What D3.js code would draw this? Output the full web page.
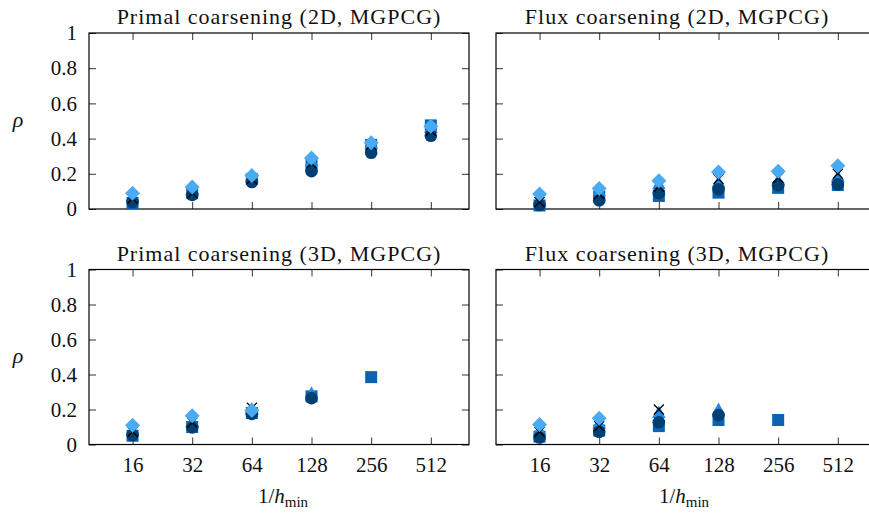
<!DOCTYPE html>
<html><head><meta charset="utf-8">
<script src="https://cdn.jsdelivr.net/npm/d3@7"></script>
<style>body{margin:0;background:#fff}svg{display:block}</style>
</head><body>
<script>
// ---------- data ----------
const categories = ["16", "32", "64", "128", "256", "512"];
const yTickValues = [0, 0.2, 0.4, 0.6, 0.8, 1];
const yTickLabels = ["0", "0.2", "0.4", "0.6", "0.8", "1"];
const panelTitles = ["Primal coarsening (2D, MGPCG)", "Flux coarsening (2D, MGPCG)",
                     "Primal coarsening (3D, MGPCG)", "Flux coarsening (3D, MGPCG)"];

// Primal 2D
const primal2D_square   = [0.034, 0.090, 0.170, 0.250, 0.364, 0.475];
const primal2D_triangle = [0.070, 0.110, 0.180, 0.270, 0.370, 0.460];
const primal2D_circle   = [0.040, 0.080, 0.153, 0.215, 0.320, 0.416];
const primal2D_cross    = [0.060, 0.090, 0.170, 0.260, 0.365, 0.445];
const primal2D_diamond  = [0.090, 0.125, 0.190, 0.290, 0.377, 0.470];
// Flux 2D
const flux2D_square   = [0.020, 0.070, 0.074, 0.093, 0.120, 0.136];
const flux2D_triangle = [0.050, 0.100, 0.140, 0.150, 0.160, 0.180];
const flux2D_circle   = [0.023, 0.050, 0.090, 0.112, 0.135, 0.140];
const flux2D_cross    = [0.040, 0.085, 0.127, 0.170, 0.178, 0.200];
const flux2D_diamond  = [0.085, 0.117, 0.160, 0.210, 0.215, 0.246];
// Primal 3D
const primal3D_square   = [0.050, 0.100, 0.180, 0.275, 0.385, null];
const primal3D_triangle = [0.080, 0.130, 0.200, 0.290, null, null];
const primal3D_circle   = [0.054, 0.098, 0.175, 0.265, null, null];
const primal3D_cross    = [0.073, 0.125, 0.210, null, null, null];
const primal3D_diamond  = [0.110, 0.165, 0.195, null, null, null];
// Flux 3D
const flux3D_square   = [0.045, 0.080, 0.105, 0.140, 0.140, null];
const flux3D_triangle = [0.080, 0.120, 0.180, 0.197, null, null];
const flux3D_circle   = [0.040, 0.073, 0.127, 0.168, null, null];
const flux3D_cross    = [0.073, 0.105, 0.200, null, null, null];
const flux3D_diamond  = [0.115, 0.150, null, null, null, null];

// ---------- styling / layout ----------
const W = 869, H = 514;
const serif = '"Liberation Serif"';
const markerStyles = {
  square:   {color: "#0b63b0"},
  triangle: {color: "#1f8bf0"},
  circle:   {color: "#003f72"},
  cross:    {color: "#000000"},
  diamond:  {color: "#4aaaf2"}
};
const drawOrder = ["square", "triangle", "circle", "cross", "diamond"];
const panelData = [
  {square: primal2D_square, triangle: primal2D_triangle, circle: primal2D_circle, cross: primal2D_cross, diamond: primal2D_diamond},
  {square: flux2D_square, triangle: flux2D_triangle, circle: flux2D_circle, cross: flux2D_cross, diamond: flux2D_diamond},
  {square: primal3D_square, triangle: primal3D_triangle, circle: primal3D_circle, cross: primal3D_cross, diamond: primal3D_diamond},
  {square: flux3D_square, triangle: flux3D_triangle, circle: flux3D_circle, cross: flux3D_cross, diamond: flux3D_diamond}
];
const panels = [
  {x0: 89,  x1: 469, y0: 33,    y1: 209,   yLabels: true,  xLabels: false, titleX: 279, labelX: 283},
  {x0: 496, x1: 876, y0: 33,    y1: 209,   yLabels: false, xLabels: false, titleX: 677, labelX: 684},
  {x0: 89,  x1: 469, y0: 269.5, y1: 444.5, yLabels: true,  xLabels: true,  titleX: 279, labelX: 283},
  {x0: 496, x1: 876, y0: 269.5, y1: 444.5, yLabels: false, xLabels: true,  titleX: 677, labelX: 684}
];

const svg = d3.select("body").append("svg").attr("width", W).attr("height", H);

const idx = categories.map((d, i) => i);

panels.forEach((p, pi) => {
  const x = d3.scaleLinear().domain([-0.73, 5.64]).range([p.x0, p.x1]);
  const y = d3.scaleLinear().domain([0, 1]).range([p.y1, p.y0]);
  const g = svg.append("g");

  const tickCol = "#333";
  const axB = g.append("g").attr("transform", `translate(0,${p.y1})`)
    .call(d3.axisBottom(x).tickValues(idx).tickSize(-7).tickPadding(13)
      .tickFormat(i => p.xLabels ? categories[i] : ""));
  const axT = g.append("g").attr("transform", `translate(0,${p.y0})`)
    .call(d3.axisTop(x).tickValues(idx).tickSize(-7).tickFormat(""));
  const axL = g.append("g").attr("transform", `translate(${p.x0},0)`)
    .call(d3.axisLeft(y).tickValues(yTickValues).tickSize(-7).tickPadding(12)
      .tickFormat((d, i) => p.yLabels ? yTickLabels[i] : ""));
  const axR = g.append("g").attr("transform", `translate(${p.x1},0)`)
    .call(d3.axisRight(y).tickValues(yTickValues).tickSize(-7).tickFormat(""));
  [axB, axT, axL, axR].forEach(a => {
    a.attr("font-family", null).attr("font-size", null);
    a.select(".domain").remove();
    a.selectAll(".tick line").attr("stroke", tickCol).attr("stroke-width", 1);
    a.selectAll(".tick text").style("font-family", serif).style("font-size", "21px").attr("fill", "#111");
  });
  axB.selectAll(".tick text").attr("dy", "0.71em");

  // frame
  g.append("rect").attr("x", p.x0).attr("y", p.y0)
    .attr("width", p.x1 - p.x0).attr("height", p.y1 - p.y0)
    .attr("fill", "none").attr("stroke", "#000").attr("stroke-width", 1.2);

  // title
  g.append("text").attr("x", p.titleX).attr("y", p.y0 - 9).attr("text-anchor", "middle")
    .style("font-family", serif).style("font-size", "22px").style("letter-spacing", "1px")
    .attr("fill", "#111").text(panelTitles[pi]);

  // markers
  const data = panelData[pi];
  drawOrder.forEach(key => {
    const vals = data[key];
    const col = markerStyles[key].color;
    const pts = vals.map((v, i) => ({i, v})).filter(d => d.v != null);
    const mg = g.append("g");
    pts.forEach(d => {
      const cx = x(d.i), cy = y(d.v);
      if (key === "square") {
        mg.append("rect").attr("x", cx - 6).attr("y", cy - 6).attr("width", 12).attr("height", 12).attr("fill", col);
      } else if (key === "circle") {
        mg.append("circle").attr("cx", cx).attr("cy", cy).attr("r", 6.3).attr("fill", col);
      } else if (key === "triangle") {
        mg.append("path").attr("d", `M${cx},${cy - 7.5}L${cx + 6.8},${cy + 5}L${cx - 6.8},${cy + 5}Z`).attr("fill", col);
      } else if (key === "diamond") {
        mg.append("path").attr("d", `M${cx},${cy - 7.5}L${cx + 7.5},${cy}L${cx},${cy + 7.5}L${cx - 7.5},${cy}Z`).attr("fill", col);
      } else if (key === "cross") {
        mg.append("path").attr("d", `M${cx - 5},${cy - 5}L${cx + 5},${cy + 5}M${cx - 5},${cy + 5}L${cx + 5},${cy - 5}`)
          .attr("stroke", col).attr("stroke-width", 1.3).attr("fill", "none");
      }
    });
  });

  // y label
  if (p.yLabels) {
    g.append("text").attr("x", 18).attr("y", (p.y0 + p.y1) / 2 + 6)
      .attr("text-anchor", "middle").style("font-style", "italic").style("font-size", "22px")
      .style("font-family", serif).attr("fill", "#111").text("ρ");
  }
  // x label
  if (p.xLabels) {
    const t = g.append("text").attr("x", p.labelX).attr("y", 503).attr("text-anchor", "middle")
      .style("font-family", serif).style("font-size", "21px").attr("fill", "#111");
    t.append("tspan").text("1/");
    t.append("tspan").style("font-style", "italic").text("h");
    t.append("tspan").style("font-size", "15px").attr("dy", 4).text("min");
  }
});
</script>
</body></html>
